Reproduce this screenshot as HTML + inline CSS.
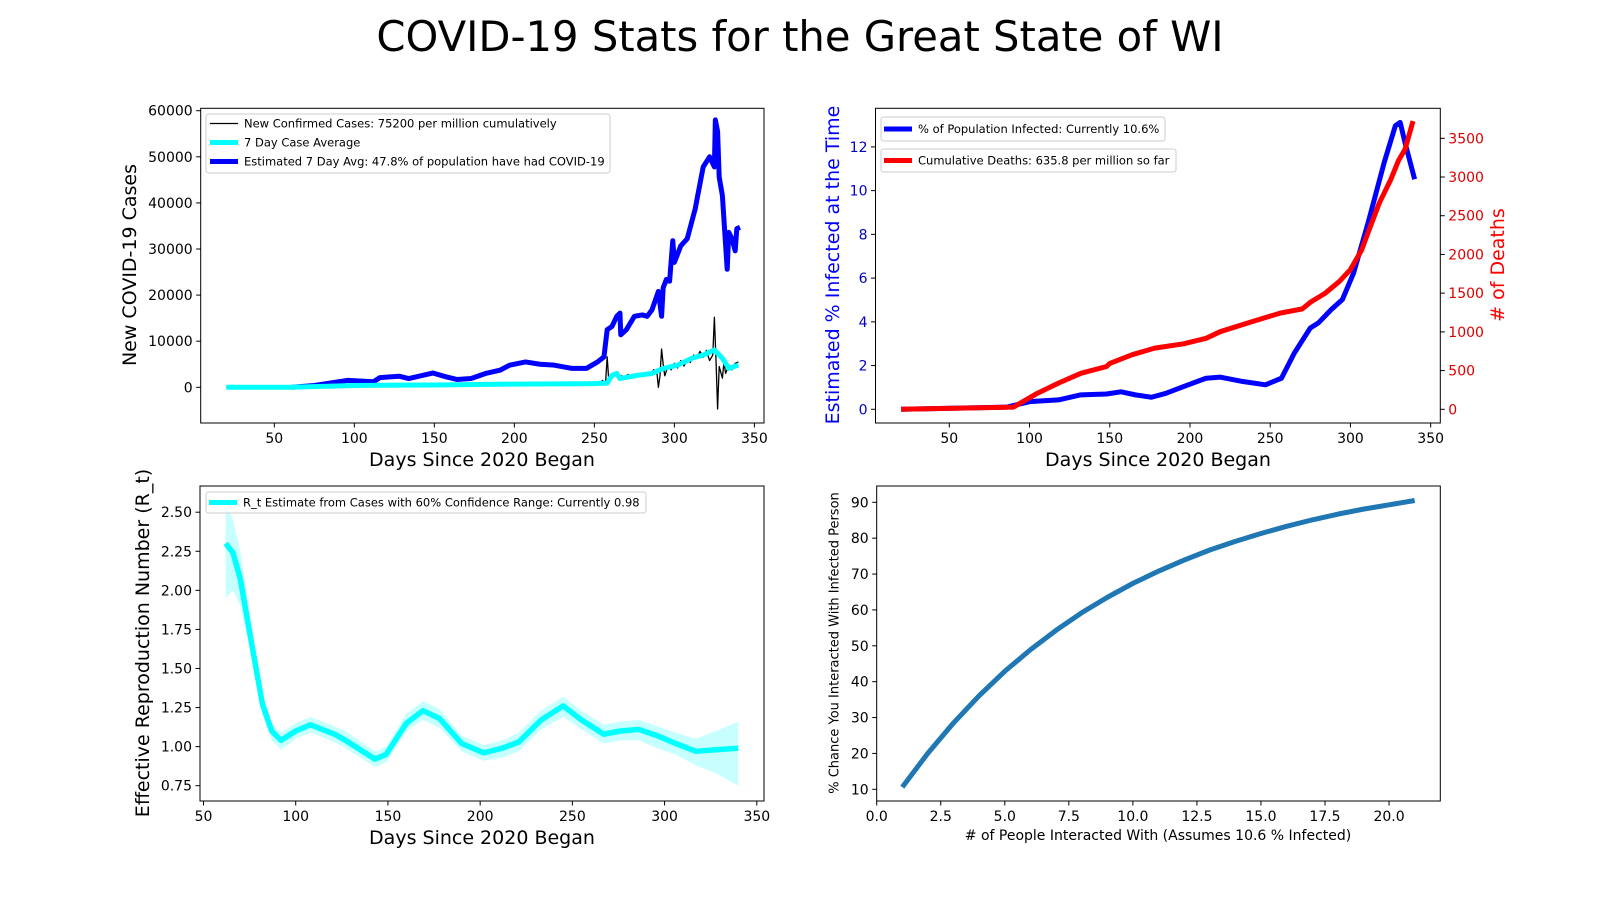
<!DOCTYPE html>
<html><head><meta charset="utf-8"><style>
html,body{margin:0;padding:0;background:#fff;}
svg{display:block;font-family:"DejaVu Sans","Liberation Sans",sans-serif;}
</style></head><body>
<svg id="fig" width="1600" height="900" viewBox="0 0 1600 900" xmlns="http://www.w3.org/2000/svg">
<rect width="1600" height="900" fill="#fff"/>
<text x="800" y="51" font-size="41.7" text-anchor="middle">COVID-19 Stats for the Great State of WI</text>
<g id="layer"></g>
</svg>
<script>
// ---------- Panel 1: cases ----------
const estDays = [61,75,96,112,116,128,134,149,157,164,173,182,191,197,207,216,225,236,245,252,256,258,261,264,266,266.5,270,275,280,283,286,290,292,293,295,297,299,300,304,308,313,317,318,322,325,325.6,327,328,330,333,334,336,338,339,341];
const estVals = [0,400,1500,1200,2100,2400,1900,3100,2300,1700,1900,3000,3700,4800,5500,5000,4800,4100,4100,5500,6600,12500,13200,15400,16100,11400,12500,15400,15700,15400,16800,20800,15400,21600,23400,23000,31800,27100,30700,32200,38700,46000,47800,50000,47800,58000,55500,45600,41600,25600,33600,32200,29600,34400,34700];
const avgDays = [20,60,100,150,200,250,256,258,261,264,266,277,286,293,302,311,318,325,330,334,340];
const avgVals = [0,0,400,500,700,800,900,900,2600,3000,1900,2600,3000,4100,4800,6300,7000,8100,6300,4100,4800];
const dailyDays = [20,100,150,200,245,247,249,251,253,255,257,258,259,261,263,265,267,269,271,273,275,277,279,281,283,285,287,289,290,291,292,293,294,296,298,300,302,304,306,308,310,312,314,316,318,320,322,324,325,326,327,328,330,331,332,334,336,338,340];
const dailyVals = [0,400,500,700,800,1200,500,1000,700,1500,1000,6600,1500,2400,3200,1700,2500,2200,2800,2000,2800,2300,3000,2500,3200,2700,3800,3500,0,2500,8300,5000,2500,4600,3800,5200,4200,5800,4600,6000,5400,7000,6200,7800,6500,8000,5800,7000,15200,6000,-4700,4500,2000,5500,3000,4800,3800,5200,5500];
const p1YTicks = [0,10000,20000,30000,40000,50000,60000];
const dayTicks = [50,100,150,200,250,300,350];
// ---------- Panel 2: infected % and deaths ----------
const infDays = [20,86,100,118,132,148,157,166,176,185,196,210,219,233,247,257,265,275,280,288,295,302,311,321,328,331,334,340];
const infVals = [0,0.1,0.35,0.43,0.66,0.7,0.8,0.66,0.55,0.73,1.04,1.42,1.47,1.27,1.12,1.42,2.57,3.72,3.95,4.56,5.02,6.24,8.53,11.28,12.97,13.12,12.2,10.52];
const deathDays = [20,90,104,118,132,148,150,164,178,196,210,219,238,256,270,275,284,293,300,307,311,318,325,330,334,339];
const deathVals = [0,28,197,338,465,553,592,705,790,846,917,1004,1128,1241,1297,1382,1495,1650,1805,2059,2284,2665,2961,3215,3356,3722];
const pctTicks = [0,2,4,6,8,10,12];
const deathTicks = [0,500,1000,1500,2000,2500,3000,3500];
// ---------- Panel 3: R_t ----------
const rtDays = [62,66,70,77,82,87,92,100,108,121,127,143,149,160,169,178,190,202,212,221,233,245,255,267,276,286,296,306,317,328,340];
const rtVals = [2.30,2.24,2.07,1.60,1.27,1.10,1.04,1.10,1.14,1.08,1.04,0.92,0.95,1.15,1.23,1.18,1.02,0.96,0.99,1.03,1.17,1.26,1.17,1.08,1.10,1.11,1.07,1.02,0.97,0.98,0.99];
const rtHigh = [2.55,2.45,2.25,1.70,1.33,1.15,1.09,1.15,1.19,1.13,1.10,0.97,1.00,1.21,1.29,1.24,1.07,1.01,1.04,1.09,1.23,1.32,1.23,1.14,1.16,1.17,1.13,1.09,1.05,1.10,1.16];
const rtLow = [1.95,2.00,1.90,1.52,1.20,1.04,0.98,1.05,1.09,1.03,0.99,0.87,0.90,1.10,1.17,1.12,0.97,0.91,0.93,0.97,1.11,1.19,1.11,1.02,1.04,1.04,0.99,0.95,0.88,0.83,0.75];
const rtTicks = [0.75,1.00,1.25,1.50,1.75,2.00,2.25,2.50];
// ---------- Panel 4: chance ----------
const people = [1,2,3,4,5,6,7,8,9,10,11,12,13,14,15,16,17,18,19,20,21];
const chance = [10.6,20.1,28.5,36.1,42.9,48.9,54.3,59.2,63.5,67.4,70.8,73.9,76.7,79.1,81.3,83.3,85.1,86.7,88.1,89.3,90.5];
const peopleTicks = [0,2.5,5,7.5,10,12.5,15,17.5,20];
const chanceTicks = [10,20,30,40,50,60,70,80,90];

const NS = "http://www.w3.org/2000/svg";
const layer = document.getElementById('layer');
function mk(tag, attrs, parent) {
  const e = document.createElementNS(NS, tag);
  for (const k in attrs) e.setAttribute(k, attrs[k]);
  (parent || layer).appendChild(e);
  return e;
}
function scale(d0, d1, p0, p1) { return v => p0 + (v - d0) * (p1 - p0) / (d1 - d0); }
function pathD(xs, ys, sx, sy) {
  return xs.map((x, i) => (i ? 'L' : 'M') + sx(x).toFixed(2) + ' ' + sy(ys[i]).toFixed(2)).join(' ');
}
function line(xs, ys, sx, sy, color, w, name) {
  const p = mk('path', {d: pathD(xs, ys, sx, sy), fill: 'none', stroke: color, 'stroke-width': w, 'stroke-linejoin': 'round', 'stroke-linecap': 'butt'});
  
  
  return p;
}
function frame(L, T, R, B, name) {
  const r = mk('rect', {x: L, y: T, width: R - L, height: B - T, fill: 'none', stroke: '#000', 'stroke-width': 1});
  
  
}
function xTicks(ticks, sx, B, labels, name) {
  ticks.forEach((t, i) => {
    const x = sx(t);
    mk('line', {x1: x, x2: x, y1: B, y2: B + 4.5, stroke: '#000', 'stroke-width': 1});
    const tx = mk('text', {x: x, y: B + 20, 'font-size': 14, 'text-anchor': 'middle', fill: '#000'});
    tx.textContent = labels ? labels[i] : t;
    
    
  });
}
function yTicks(ticks, sy, X, side, color, fmt, name) {
  ticks.forEach(t => {
    const y = sy(t);
    const dir = side === 'left' ? -1 : 1;
    mk('line', {x1: X, x2: X + dir * 4.5, y1: y, y2: y, stroke: '#000', 'stroke-width': 1});
    const tx = mk('text', {x: X + dir * 8, y: y + 5, 'font-size': 14, 'text-anchor': side === 'left' ? 'end' : 'start', fill: color});
    tx.textContent = fmt(t);
    
    
  });
}
function label(txt, x, y, size, rot, color, name) {
  const t = mk('text', {x: x, y: y, 'font-size': size, 'text-anchor': 'middle', 'dominant-baseline': 'central', fill: color || '#000'});
  if (rot) t.setAttribute('transform', 'rotate(-90 ' + x + ' ' + y + ')');
  t.textContent = txt;
  
  
}
function legendBox(x, y, w, h, name) {
  const r = mk('rect', {x: x, y: y, width: w, height: h, rx: 2.5, fill: '#fff', 'fill-opacity': 0.8, stroke: '#ccc', 'stroke-width': 1});
  
  
}
function legendEntry(x, y, color, w, txt, name) {
  mk('line', {x1: x, x2: x + 28, y1: y, y2: y, stroke: color, 'stroke-width': w});
  const t = mk('text', {x: x + 34, y: y + 4.2, 'font-size': 11.5, fill: '#000'});
  t.textContent = txt;
  
  
}

// ===== Panel 1 =====
(function () {
  const L = 200.7, R = 764, T = 108.3, B = 423;
  const sx = scale(4, 356, L, R);
  const sy = scale(0, 60000, 387.3, 110.7);
  line(dailyDays, dailyVals, sx, sy, '#000', 1.3, 'daily-cases-line');
  line(estDays, estVals, sx, sy, '#0000ff', 5, 'estimated-cases-line');
  line(avgDays, avgVals, sx, sy, '#00ffff', 5, 'seven-day-average-line');
  frame(L, T, R, B, 'cases-axes');
  xTicks(dayTicks, sx, B, null, 'x-tick-label');
  yTicks(p1YTicks, sy, L, 'left', '#000', v => String(v), 'y-tick-label');
  label('New COVID-19 Cases', 130, 265, 19, true, '#000', 'cases-y-axis-title');
  label('Days Since 2020 Began', 482, 460, 19, false, '#000', 'cases-x-axis-title');
  legendBox(206, 114, 404, 59, 'cases-legend');
  legendEntry(210, 123.5, '#000', 1.3, 'New Confirmed Cases: 75200 per million cumulatively', 'legend-entry-daily');
  legendEntry(210, 142.5, '#00ffff', 5, '7 Day Case Average', 'legend-entry-average');
  legendEntry(210, 161.5, '#0000ff', 5, 'Estimated 7 Day Avg: 47.8% of population have had COVID-19', 'legend-entry-estimated');
})();

// ===== Panel 2 =====
(function () {
  const L = 875.5, R = 1440.3, T = 108.3, B = 423;
  const sx = scale(4, 356, L, R);
  const sy = scale(0, 12, 409.3, 146.9);
  const sy2 = scale(0, 3500, 409.3, 138.3);
  line(infDays, infVals, sx, sy, '#0000ff', 5, 'infected-percent-line');
  line(deathDays, deathVals, sx, sy2, '#ff0000', 5, 'cumulative-deaths-line');
  frame(L, T, R, B, 'infected-axes');
  xTicks(dayTicks, sx, B, null, 'x-tick-label');
  yTicks(pctTicks, sy, L, 'left', '#0000cc', v => String(v), 'left-y-tick-label');
  yTicks(deathTicks, sy2, R, 'right', '#dd0000', v => String(v), 'right-y-tick-label');
  label('Estimated % Infected at the Time', 833, 265, 19, true, '#0000ff', 'infected-y-axis-title');
  label('# of Deaths', 1498, 265, 19, true, '#ff0000', 'deaths-y-axis-title');
  label('Days Since 2020 Began', 1158, 460, 19, false, '#000', 'infected-x-axis-title');
  legendBox(881, 117, 284, 24, 'infected-legend');
  legendEntry(884, 129, '#0000ff', 5, '% of Population Infected: Currently 10.6%', 'legend-entry-infected');
  legendBox(881, 149, 295, 23, 'deaths-legend');
  legendEntry(884, 160.5, '#ff0000', 5, 'Cumulative Deaths: 635.8 per million so far', 'legend-entry-deaths');
})();

// ===== Panel 3 =====
(function () {
  const L = 200, R = 764, T = 486, B = 801;
  const sx = scale(48.1, 353.9, L, R);
  const sy = scale(0.75, 2.5, 785.7, 512.2);
  let d = pathD(rtDays, rtHigh, sx, sy);
  const rev = rtDays.map((x, i) => 'L' + sx(x).toFixed(2) + ' ' + sy(rtLow[i]).toFixed(2)).reverse().join(' ');
  const band = mk('path', {d: d + ' ' + rev + ' Z', fill: '#00ffff', 'fill-opacity': 0.22, stroke: 'none'});
  
  
  line(rtDays, rtVals, sx, sy, '#00ffff', 5.5, 'rt-estimate-line');
  frame(L, T, R, B, 'rt-axes');
  xTicks(dayTicks, sx, B, null, 'x-tick-label');
  yTicks(rtTicks, sy, L, 'left', '#000', v => v.toFixed(2), 'y-tick-label');
  label('Effective Reproduction Number (R_t)', 143, 643, 19, true, '#000', 'rt-y-axis-title');
  label('Days Since 2020 Began', 482, 838, 19, false, '#000', 'rt-x-axis-title');
  legendBox(206, 492, 440, 21, 'rt-legend');
  legendEntry(209, 502.5, '#00ffff', 5, 'R_t Estimate from Cases with 60% Confidence Range: Currently 0.98', 'legend-entry-rt');
})();

// ===== Panel 4 =====
(function () {
  const L = 876.7, R = 1440.3, T = 486, B = 801;
  const sx = scale(0, 22, L, R);
  const sy = scale(10, 90, 789.3, 502.3);
  line(people, chance, sx, sy, '#1f77b4', 5, 'chance-line');
  frame(L, T, R, B, 'chance-axes');
  xTicks(peopleTicks, sx, B, peopleTicks.map(v => v.toFixed(1)), 'x-tick-label');
  yTicks(chanceTicks, sy, L, 'left', '#000', v => String(v), 'y-tick-label');
  label('% Chance You Interacted With Infected Person', 835, 643, 13, true, '#000', 'chance-y-axis-title');
  label('# of People Interacted With (Assumes 10.6 % Infected)', 1158, 836, 14, false, '#000', 'chance-x-axis-title');
})();
</script>
</body></html>
